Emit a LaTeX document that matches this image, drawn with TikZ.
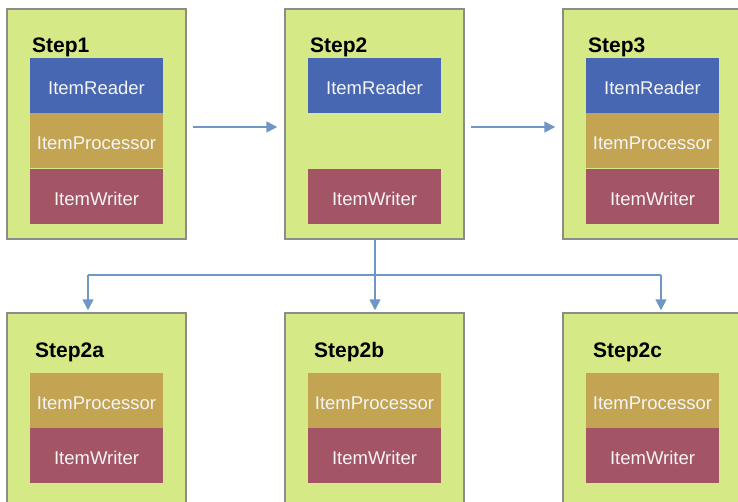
\documentclass[tikz,border=0pt]{standalone}
\usepackage{fontspec}
\setmainfont{Liberation Sans}
\usetikzlibrary{positioning,arrows.meta}

\definecolor{stepgreen}{HTML}{D5E986}
\definecolor{boxgray}{HTML}{8C8C8C}
\definecolor{readerblue}{HTML}{4767B3}
\definecolor{processortan}{HTML}{C3A453}
\definecolor{writerred}{HTML}{A35465}
\definecolor{flowblue}{HTML}{6F96C4}

\begin{document}
\begin{tikzpicture}[x=1pt, y=1pt,
    stepbox/.style={draw=boxgray, line width=1.5pt, fill=stepgreen, minimum width=179pt, minimum height=230pt, inner sep=0pt},
    part/.style={minimum width=133pt, minimum height=55pt, inner sep=0pt, text height=20pt, text depth=2pt, text=white!92!gray, font=\fontsize{18.5}{18.5}\selectfont},
    reader/.style={part, fill=readerblue},
    processor/.style={part, fill=processortan},
    writer/.style={part, fill=writerred},
    steplabel/.style={anchor=base west, inner sep=0pt, font=\bfseries\fontsize{21}{21}\selectfont},
    flow/.style={draw=flowblue, line width=1.6pt, -{Triangle[length=11pt,width=11pt]}}]
    \useasboundingbox (0,0) rectangle (738,-501);
    \clip (0,0) rectangle (738,-501);

    % top row
    \node[stepbox] (step1) at (96.5,-124) {};
    \node[stepbox] (step2) at (374.5,-124) {};
    \node[stepbox] (step3) at (652.5,-124) {};
    \node[steplabel] (lbl1) at (32,-52) {Step1};
    \node[steplabel] (lbl2) at (310,-52) {Step2};
    \node[steplabel] (lbl3) at (588,-52) {Step3};

    \node[reader] (rd1) at (96.5,-85.5) {ItemReader};
    \node[processor, below=0pt of rd1] (pr1) {ItemProcessor};
    \node[writer, below=0pt of pr1] (wr1) {ItemWriter};

    \node[reader] (rd2) at (374.5,-85.5) {ItemReader};
    \node[writer] (wr2) at (374.5,-196.5) {ItemWriter};

    \node[reader] (rd3) at (652.5,-85.5) {ItemReader};
    \node[processor, below=0pt of rd3] (pr3) {ItemProcessor};
    \node[writer, below=0pt of pr3] (wr3) {ItemWriter};

    % bottom row
    \node[stepbox] (step2a) at (96.5,-428) {};
    \node[stepbox] (step2b) at (374.5,-428) {};
    \node[stepbox] (step2c) at (652.5,-428) {};
    \node[steplabel] (lbl2a) at (35,-357) {Step2a};
    \node[steplabel] (lbl2b) at (314,-357) {Step2b};
    \node[steplabel] (lbl2c) at (593,-357) {Step2c};

    \foreach \s in {2a, 2b, 2c} {
        \node[processor] (pr\s) at (step\s.center |- 0,-400.5) {ItemProcessor};
        \node[writer, below=0pt of pr\s] (wr\s) {ItemWriter};
    }

    % flow
    \draw[flow, shorten <=6pt, shorten >=7pt] ([yshift=-3pt]step1.east) -- ([yshift=-3pt]step2.west);
    \draw[flow, shorten <=6pt, shorten >=7pt] ([yshift=-3pt]step2.east) -- ([yshift=-3pt]step3.west);

    \coordinate (fork) at (375,-275);
    \draw[draw=flowblue, line width=1.6pt] (step2.south -| fork) -- (fork);
    \draw[draw=flowblue, line width=1.6pt] (88,-275) -- (661,-275);
    \foreach \to/\x in {step2a/88, step2b/375, step2c/661}
        \draw[flow, shorten >=2pt] (\x,-275) -- (\to.north -| \x,0);
\end{tikzpicture}
\end{document}
